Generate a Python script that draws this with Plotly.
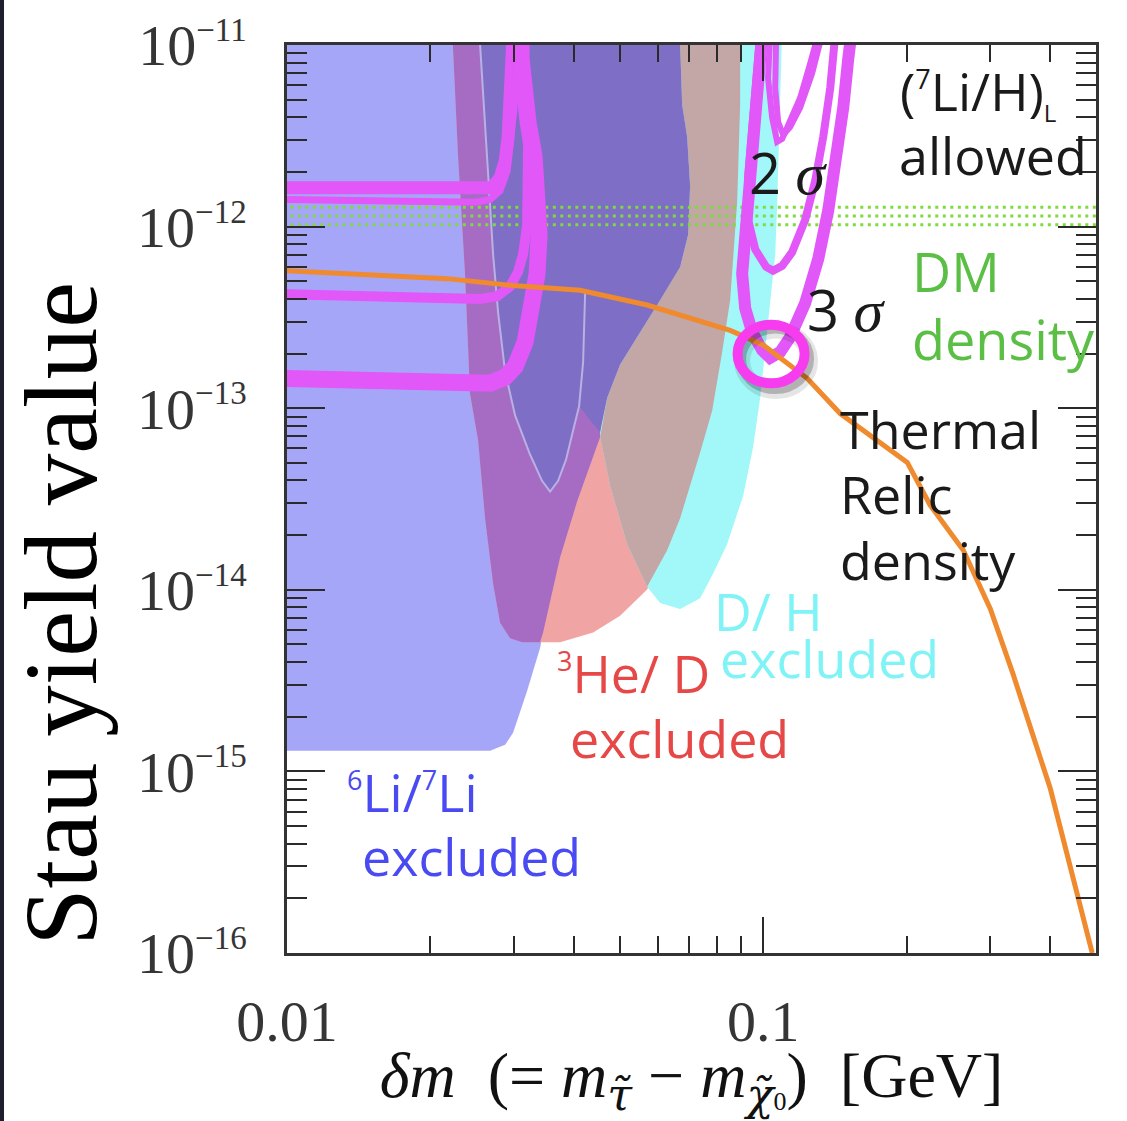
import math
import plotly.graph_objects as go

# ---------------------------------------------------------------- data
TOP = 1.2e-11     # fills run slightly past the top frame and get clipped
LEFT = 0.0098     # ... and past the left frame

# 6Li/7Li excluded region
li6_x = [LEFT, 0.06628, 0.06693, 0.06758, 0.06923, 0.07024, 0.06956, 0.06693, 0.06076, 0.05516,
         0.05007, 0.04703, 0.04546, 0.04068, 0.03746, 0.0345, 0.034, 0.03193, 0.02984, 0.02871,
         0.0267, LEFT]
li6_y = [TOP, TOP, 9.88e-12, 4.69e-12, 3.12e-12, 1.68e-12, 9.03e-13, 6.00e-13, 3.94e-13, 2.62e-13,
         1.74e-13, 1.14e-13, 6.95e-14, 3.07e-14, 1.51e-14, 5.82e-15, 4.78e-15, 2.77e-15, 1.63e-15,
         1.40e-15, 1.30e-15, 1.30e-15]

# 3He/D excluded region
he3_x = [0.0223, 0.0223, 0.02287, 0.02365, 0.02423, 0.02519, 0.02606, 0.02709, 0.02802, 0.02941,
         0.03117, 0.03746, 0.04395, 0.05007, 0.05706, 0.06285, 0.06693, 0.07373, 0.07815, 0.08202,
         0.08525, 0.08818, 0.08947, 0.08947]
he3_y = [TOP, 1e-11, 2.43e-12, 5.50e-13, 1.20e-13, 6.69e-14, 2.48e-14, 1.08e-14, 6.59e-15, 5.41e-15,
         5.15e-15, 5.15e-15, 5.82e-15, 7.19e-15, 1.005e-14, 1.65e-14, 2.48e-14, 5.70e-14, 9.71e-14,
         2.04e-13, 3.94e-13, 1.36e-12, 4.69e-12, TOP]

# 3He/D and 6Li/7Li together
he3_li6_x = [0.0223, 0.0223, 0.02287, 0.02365, 0.02423, 0.02519, 0.02606, 0.02709, 0.02802, 0.02941,
             0.03117, 0.034, 0.0345, 0.03746, 0.04068, 0.04546, 0.04703, 0.05007, 0.05516, 0.06076,
             0.06693, 0.06956, 0.07024, 0.06923, 0.06758, 0.06693, 0.06693]
he3_li6_y = [TOP, 1e-11, 2.43e-12, 5.50e-13, 1.20e-13, 6.69e-14, 2.48e-14, 1.08e-14, 6.59e-15, 5.41e-15,
             5.15e-15, 5.15e-15, 5.82e-15, 1.51e-14, 3.07e-14, 6.95e-14, 1.14e-13, 1.74e-13, 2.62e-13,
             3.94e-13, 6.00e-13, 9.03e-13, 1.68e-12, 3.12e-12, 4.69e-12, 9.88e-12, TOP]

# D/H excluded region
dh_x = [0.04546, 0.04546, 0.04771, 0.0518, 0.05706, 0.06076, 0.06693, 0.07373, 0.07852, 0.084,
        0.09078, 0.09528, 0.09856, 0.101, 0.1034, 0.106, 0.107, 0.108, 0.1096]
dh_y = [TOP, 6.95e-14, 3.74e-14, 1.78e-14, 1.04e-14, 8.45e-15, 7.85e-15, 8.99e-15, 1.23e-14, 1.78e-14,
        3.30e-14, 6.14e-14, 1.14e-13, 2.04e-13, 3.79e-13, 7.05e-13, 1.31e-12, 3.12e-12, TOP]

# 3He/D and D/H together
he3_dh_x = [0.06693, 0.06693, 0.06758, 0.06923, 0.07024, 0.06956, 0.06693, 0.06076, 0.05516, 0.05007,
            0.04703, 0.04546, 0.04771, 0.0518, 0.05706, 0.06285, 0.06693, 0.07373, 0.07815, 0.08202,
            0.08525, 0.08818, 0.08947, 0.08947]
he3_dh_y = [TOP, 9.88e-12, 4.69e-12, 3.12e-12, 1.68e-12, 9.03e-13, 6.00e-13, 3.94e-13, 2.62e-13, 1.74e-13,
            1.14e-13, 6.95e-14, 3.74e-14, 1.78e-14, 1.04e-14, 1.65e-14, 2.48e-14, 5.70e-14, 9.71e-14,
            2.04e-13, 3.94e-13, 1.36e-12, 4.69e-12, TOP]

# all three constraints together
all3_x = [0.02544, 0.06693, 0.06693, 0.06758, 0.06923, 0.07024, 0.06956, 0.06693, 0.06076, 0.05516,
          0.05007, 0.04703, 0.04546, 0.04331, 0.04107, 0.0399, 0.03856, 0.0371, 0.03569, 0.03433,
          0.03239, 0.03013, 0.02871, 0.02776, 0.02709, 0.02645, 0.02594, 0.02544]
all3_y = [TOP, TOP, 9.88e-12, 4.69e-12, 3.12e-12, 1.68e-12, 9.03e-13, 6.00e-13, 3.94e-13, 2.62e-13,
          1.74e-13, 1.14e-13, 7.39e-14, 8.58e-14, 1.03e-13, 7.57e-14, 5.22e-14, 3.98e-14, 3.47e-14, 3.98e-14,
          5.56e-14, 9.13e-14, 1.59e-13, 3.35e-13, 7.05e-13, 1.90e-12, 4.52e-12, 1e-11]

# thin edge of the V-shaped notch
notch_x = [0.02544, 0.02594, 0.02645, 0.02709, 0.02776, 0.02871, 0.03013, 0.03239, 0.03433, 0.03569,
           0.0371, 0.03856, 0.0399, 0.04107, 0.04187, 0.04227]
notch_y = [1e-11, 4.52e-12, 1.90e-12, 7.05e-13, 3.35e-13, 1.59e-13, 9.13e-14, 5.56e-14, 3.98e-14, 3.47e-14,
           3.98e-14, 5.22e-14, 7.57e-14, 1.03e-13, 1.80e-13, 4.30e-13]

# thermal relic density of the stau
relic_x = [0.0098, 0.02168, 0.02985, 0.04126, 0.05705, 0.07266, 0.08525, 0.1, 0.1237, 0.1451,
           0.2007, 0.2243, 0.2632, 0.300, 0.335, 0.401, 0.491]
relic_y = [5.72e-13, 5.17e-13, 4.74e-13, 4.46e-13, 3.70e-13, 3.07e-13, 2.68e-13, 2.23e-13, 1.46e-13,
           9.35e-14, 5.03e-14, 2.92e-14, 1.65e-14, 7.85e-15, 3.42e-15, 8.02e-16, 1e-16]

# dark matter density band
dm_levels = [1.278e-12, 1.143e-12, 1.023e-12]
dm_x = [0.0098, 0.51]

# (7Li/H)_L allowed contours: (x, y, line width)
contours = [
    ([0.0098, 0.01728, 0.02544, 0.02696, 0.02802, 0.02871, 0.02913, 0.02941, 0.02969, 0.02984],
     [1.637e-12, 1.62e-12, 1.578e-12, 1.637e-12, 1.853e-12, 2.29e-12, 3.12e-12, 4.52e-12, 7.43e-12, 1.146e-11], 13),
    ([0.0098, 0.01728, 0.02483, 0.0267, 0.02802, 0.02899, 0.02955, 0.02999, 0.03028, 0.03042],
     [1.41e-12, 1.394e-12, 1.36e-12, 1.41e-12, 1.578e-12, 2.02e-12, 2.93e-12, 4.52e-12, 7.43e-12, 1.146e-11], 7),
    ([0.0098, 0.01728, 0.02544, 0.02762, 0.02941, 0.03057, 0.03132, 0.03193, 0.03208, 0.03208, 0.03162,
      0.03087, 0.03057, 0.03057],
     [4.24e-13, 4.14e-13, 3.99e-13, 4.14e-13, 4.68e-13, 5.64e-13, 7.05e-13, 1.02e-12, 1.68e-12, 2.76e-12,
      4.00e-12, 5.80e-12, 8.41e-12, 1.146e-11], 10),
    ([0.0098, 0.01728, 0.02423, 0.0267, 0.02871, 0.03013, 0.03162, 0.03271, 0.03351, 0.03384, 0.03368,
      0.03303, 0.03208, 0.03132, 0.03102, 0.03102],
     [1.46e-13, 1.41e-13, 1.36e-13, 1.373e-13, 1.48e-13, 1.695e-13, 2.31e-13, 3.35e-13, 5.50e-13, 9.03e-13,
      1.48e-12, 2.43e-12, 3.76e-12, 5.45e-12, 8.41e-12, 1.146e-11], 17),
    ([0.09952, 0.09714, 0.09391, 0.09122, 0.09034, 0.09166, 0.09483, 0.09952, 0.1034, 0.1086, 0.1139,
      0.1225, 0.1305, 0.137, 0.1424, 0.1473, 0.1509, 0.1531],
     [1.146e-11, 5.80e-12, 2.43e-12, 1.02e-12, 5.50e-13, 3.56e-13, 2.62e-13, 2.09e-13, 1.895e-13, 2.04e-13,
      2.46e-13, 3.79e-13, 6.63e-13, 1.23e-12, 2.29e-12, 4.52e-12, 8.41e-12, 1.146e-11], 12),
    ([0.09856, 0.09575, 0.093, 0.093, 0.09621, 0.10145, 0.1049, 0.1096, 0.115, 0.1225, 0.1286, 0.1337,
      0.1383, 0.1417],
     [1.146e-11, 4.52e-12, 1.90e-12, 1.088e-12, 7.50e-13, 6.00e-13, 5.71e-13, 6.08e-13, 7.23e-13, 1.088e-12,
      1.786e-12, 3.12e-12, 5.80e-12, 1.146e-11], 8),
    ([0.1034, 0.1024, 0.1044, 0.107, 0.1096, 0.1139, 0.1196, 0.1255, 0.1305],
     [1.146e-11, 6.56e-12, 4.00e-12, 2.93e-12, 3.04e-12, 3.76e-12, 5.12e-12, 7.90e-12, 1.146e-11], 6),
    ([0.1065, 0.106, 0.1075, 0.1102, 0.1139, 0.1196, 0.1267, 0.133],
     [1.146e-11, 5.80e-12, 3.76e-12, 3.20e-12, 3.53e-12, 4.52e-12, 6.98e-12, 1.146e-11], 6),
]

# highlighted best-fit point
best_point = (0.1039, 1.99e-13)

# axis ranges and ticks
x_range = (0.01, 0.5)
y_range = (1e-16, 1e-11)
x_major = [0.01, 0.1]
x_major_text = ["0.01", "0.1"]
x_minor = [0.02, 0.03, 0.04, 0.05, 0.06, 0.07, 0.08, 0.09, 0.2, 0.3, 0.4]
y_exponents = [-16, -15, -14, -13, -12, -11]
y_major = [10.0 ** e for e in y_exponents]
y_major_text = ["10<sup><span style='font-size:33px'>\u2212%d</span></sup>" % -e for e in y_exponents]
y_minor = [m * 10.0 ** e for e in y_exponents[:-1] for m in range(2, 10)]

SUP = "<sup><span style='font-size:27px'>%s</span></sup>"
SIG = "<i><span style=\"font-family:'Liberation Serif'; font-size:60px\">\u03c3</span></i>"

# labels: (text, x, y, colour, size)
labels = [
    ("(" + SUP % "7" + "Li/H)<sub><span style='font-size:24px'>L</span></sub>", 0.1921, 5.5e-12, "#1a1a1a", 52),
    ("allowed", 0.191, 2.49e-12, "#1a1a1a", 52),
    ("2 " + SIG, 0.0925, 2.0e-12, "#1a1a1a", 56),
    ("3 " + SIG, 0.1225, 3.5e-13, "#1a1a1a", 56),
    ("DM", 0.2036, 5.71e-13, "#5cbf45", 54),
    ("density", 0.2036, 2.40e-13, "#5cbf45", 54),
    ("Thermal", 0.1438, 7.77e-14, "#1a1a1a", 52),
    ("Relic", 0.1438, 3.39e-14, "#1a1a1a", 52),
    ("density", 0.1438, 1.46e-14, "#1a1a1a", 52),
    ("D/ H", 0.07815, 7.65e-15, "#7ff3f6", 52),
    ("excluded", 0.08045, 4.22e-15, "#7ff3f6", 52),
    (SUP % "3" + "He/ D", 0.03656, 3.50e-15, "#e64848", 52),
    ("excluded", 0.03894, 1.53e-15, "#e64848", 52),
    (SUP % "6" + "Li/" + SUP % "7" + "Li", 0.01324, 7.73e-16, "#4a4af2", 52),
    ("excluded", 0.01423, 3.45e-16, "#4a4af2", 52),
]

# ---------------------------------------------------------------- figure
W, H = 1127, 1121
M = dict(l=287, r=31, t=36, b=155)
plot_w = W - M["l"] - M["r"]
plot_h = H - M["t"] - M["b"]
px_per_decade_x = plot_w / math.log10(x_range[1] / x_range[0])
px_per_decade_y = plot_h / math.log10(y_range[1] / y_range[0])

fig = go.Figure()


def region(xs, ys, colour):
    fig.add_trace(go.Scatter(x=xs, y=ys, mode="lines", fill="toself", fillcolor=colour,
                             line=dict(width=0, color=colour), hoverinfo="skip", showlegend=False))


region(li6_x, li6_y, "#a6a6f8")
region(he3_x, he3_y, "#f0a5a4")
region(he3_li6_x, he3_li6_y, "#a66cc4")
region(dh_x, dh_y, "#a2f8f8")
region(he3_dh_x, he3_dh_y, "#c3a6a6")
region(all3_x, all3_y, "#7e6ec5")

fig.add_trace(go.Scatter(x=notch_x, y=notch_y, mode="lines", line=dict(color="#b9b0e4", width=2),
                         hoverinfo="skip", showlegend=False))

for level in dm_levels:
    fig.add_trace(go.Scatter(x=dm_x, y=[level, level], mode="lines",
                             line=dict(color="#7ddc3a", width=3, dash="3px,4.5px"),
                             hoverinfo="skip", showlegend=False))

for cx, cy, w in contours:
    fig.add_trace(go.Scatter(x=cx, y=cy, mode="lines", line=dict(color="#e157f7", width=w),
                             hoverinfo="skip", showlegend=False))

fig.add_trace(go.Scatter(x=relic_x, y=relic_y, mode="lines", line=dict(color="#f08a2e", width=5),
                         hoverinfo="skip", showlegend=False))


def ring(cx, cy, rx_px, ry_px, dx_px, dy_px, width, colour):
    """Ellipse of given pixel radii around a data point on the log-log axes."""
    fx = 10 ** (rx_px / px_per_decade_x)
    fy = 10 ** (ry_px / px_per_decade_y)
    sx = 10 ** (dx_px / px_per_decade_x)
    sy = 10 ** (-dy_px / px_per_decade_y)
    fig.add_shape(type="circle", xref="x", yref="y",
                  x0=cx * sx / fx, x1=cx * sx * fx, y0=cy * sy / fy, y1=cy * sy * fy,
                  line=dict(color=colour, width=width), layer="above")


bx, by = best_point
ring(bx, by, 34, 31, 5, 7, 16, "rgba(0,0,0,0.10)")
ring(bx, by, 34, 31, 4, 5, 10, "rgba(0,0,0,0.22)")
ring(bx, by, 33.5, 30, 0, 0, 10, "#f73cef")

for text, lx, ly, col, size in labels:
    fig.add_annotation(text=text, x=math.log10(lx), y=math.log10(ly), xref="x", yref="y",
                       xanchor="left", yanchor="middle", showarrow=False,
                       font=dict(family="Open Sans", size=size, color=col))

# y-axis title, set low on the left side
fig.add_annotation(text="Stau yield value", xref="paper", yref="paper", x=-0.279, y=0.374,
                   xanchor="center", yanchor="middle", textangle=-90, showarrow=False,
                   font=dict(family="Liberation Serif", size=103, color="#000000"))

# dark edge strip along the left of the page
fig.add_shape(type="rect", xref="paper", yref="paper", x0=-0.3548, x1=-0.3498, y0=-0.2, y1=1.1,
              fillcolor="#1e1e2c", line=dict(width=0), layer="above")

tick_font = dict(family="Liberation Serif", size=58, color="#353535")
DJ = "<span style=\"font-family:'DejaVu Serif'\">%s</span>"
x_title = ("<i>\u03b4m</i>  (= <i>m</i><sub>" + DJ % "<i>\u03c4\u0303</i>" + "</sub> \u2212 <i>m</i><sub>"
           + DJ % "<i>\u03c7\u0303</i>" + "<span style='font-size:26px'>0</span></sub>)  [GeV]")

fig.update_xaxes(
    type="log", range=[math.log10(x_range[0]), math.log10(x_range[1])],
    tickmode="array", tickvals=x_major, ticktext=x_major_text,
    ticks="inside", ticklen=36, tickwidth=2, tickcolor="#2a2a2a",
    minor=dict(tickmode="array", tickvals=x_minor, ticks="inside", ticklen=17, tickwidth=2,
               tickcolor="#2a2a2a"),
    showline=True, linecolor="#333333", linewidth=2.5, mirror="ticks",
    showgrid=False, zeroline=False, tickfont=tick_font, ticklabelstandoff=16,
    title=dict(text=x_title, font=dict(family="Liberation Serif", size=64, color="#111111"), standoff=10),
)
fig.update_yaxes(
    type="log", range=[math.log10(y_range[0]), math.log10(y_range[1])],
    tickmode="array", tickvals=y_major, ticktext=y_major_text,
    ticks="inside", ticklen=38, tickwidth=2, tickcolor="#2a2a2a",
    minor=dict(tickmode="array", tickvals=y_minor, ticks="inside", ticklen=20, tickwidth=2,
               tickcolor="#2a2a2a"),
    showline=True, linecolor="#333333", linewidth=2.5, mirror="ticks",
    showgrid=False, zeroline=False, tickfont=tick_font, ticklabelstandoff=26,
)

fig.update_layout(
    width=W, height=H, margin=M,
    paper_bgcolor="white", plot_bgcolor="white",
    showlegend=False,
)

fig.write_html("out.html")
